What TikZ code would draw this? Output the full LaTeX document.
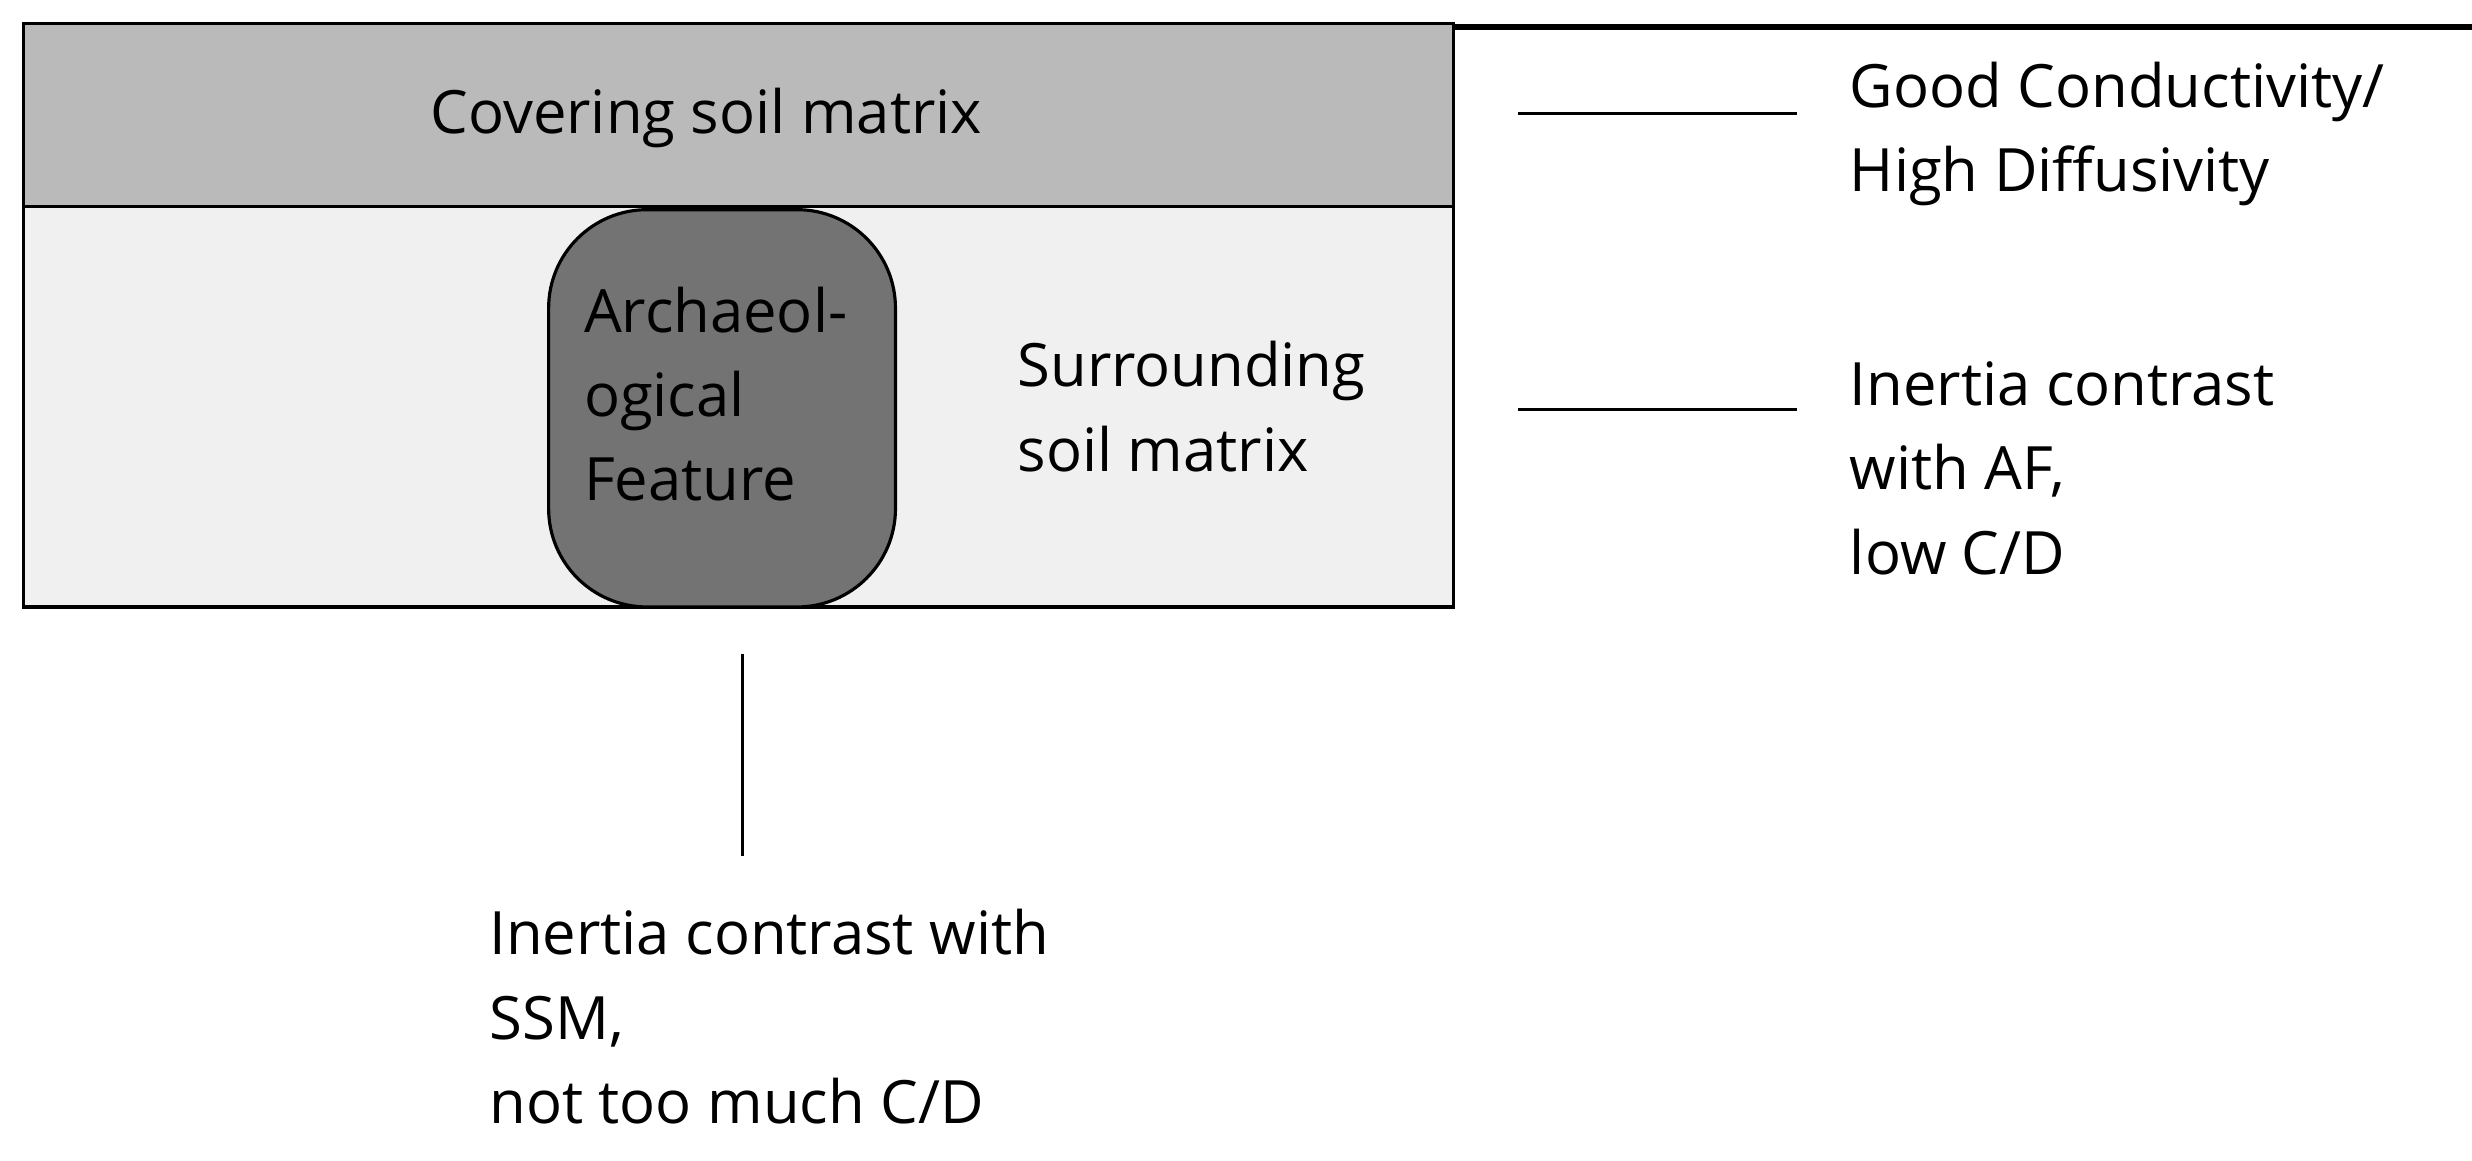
\documentclass[tikz,border=0pt]{standalone}
\usepackage{fontspec}
\setmainfont{Open Sans}
\begin{document}
\begin{tikzpicture}[x=0.015765cm,y=-0.015765cm,
  lbl/.style={anchor=west,inner sep=0pt,font=\fontsize{17}{24}\selectfont,align=left},
  ln/.style={draw=black,line width=0.9pt}]
\useasboundingbox (0,0) rectangle (1568,736);
\fill[white] (0,0) rectangle (1568,736);
\node[ln,fill=black!27,minimum width=907\pgflinewidth,inner sep=0pt,anchor=north west] (cov) at (15,15) {};
\path[ln,fill=black!27] (15,15) rectangle (922,131);
\path[ln,fill=black!6] (15,131) rectangle (922,385);
\path[ln,fill=black!55,rounded corners=28] (348,133) rectangle (568,385);
\node[inner sep=0pt,font=\fontsize{17}{24}\selectfont] (c) at (448,75) {Covering soil matrix};
\node[lbl] (af) at (370,250) {Archaeol-\\ogical\\Feature};
\node[lbl] (ssm) at (645,258) {Surrounding\\soil matrix};
\coordinate (h1a) at (963,72); \coordinate (h1b) at (1140,72);
\coordinate (h2a) at (963,260); \coordinate (h2b) at (1140,260);
\coordinate (v1) at (471,415); \coordinate (v2) at (471,543);
\draw[ln] (h1a) -- (h1b);
\draw[ln] (h2a) -- (h2b);
\draw[ln] (v1) -- (v2);
\node[lbl] (gc) at (1173,85) {Good Conductivity/\\High Diffusivity};
\node[lbl] (ic) at (1173,297) {Inertia contrast\\with AF,\\low C/D};
\node[lbl] (ib) at (310,645) {Inertia contrast with\\SSM,\\not too much C/D};
\end{tikzpicture}
\end{document}
